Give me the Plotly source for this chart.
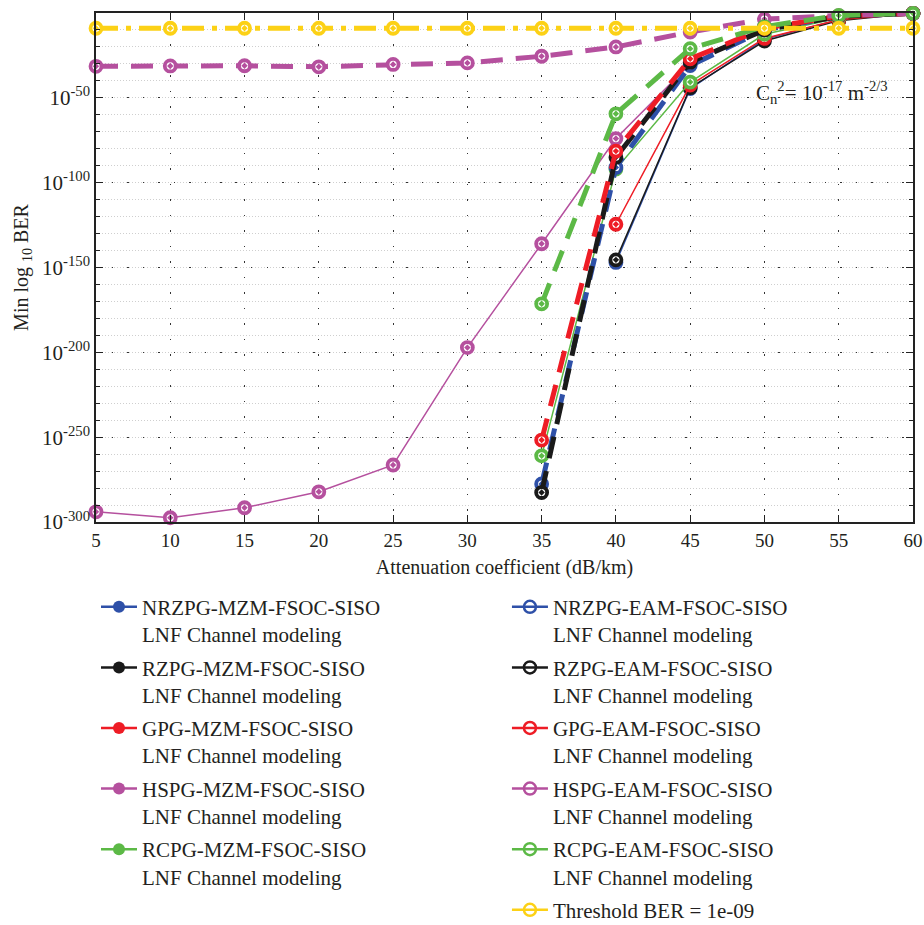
import plotly.graph_objects as go

# ---------------- data (exponents of BER, i.e. log10 BER) ----------------
atten = [5, 10, 15, 20, 25, 30, 35, 40, 45, 50, 55, 60]

nrzpg_mzm = [None, None, None, None, None, None, None, -147.0, -44.5, -15.5, -4.0, -0.2]
rzpg_mzm = [None, None, None, None, None, None, None, -145.5, -44.0, -16.5, -4.5, -0.2]
gpg_mzm = [None, None, None, None, None, None, None, -124.5, -42.5, -15.0, -4.0, -0.2]
hspg_mzm = [-294.0, -297.5, -291.6, -282.2, -266.4, -197.2, -136.0, -74.0, -30.0, -8.0, -2.5, -0.2]
rcpg_mzm = [None, None, None, None, None, None, -261.0, -92.0, -40.7, -12.5, -3.0, -0.2]

nrzpg_eam = [None, None, None, None, None, None, -277.6, -91.0, -31.0, -10.0, -2.0, -0.2]
rzpg_eam = [None, None, None, None, None, None, -282.6, -85.0, -29.0, -10.0, -2.0, -0.2]
gpg_eam = [None, None, None, None, None, None, -251.7, -81.4, -27.0, -9.0, -1.8, -0.2]
hspg_eam = [-31.4, -31.2, -31.1, -31.7, -30.3, -29.4, -25.5, -20.0, -11.2, -3.6, -1.5, -0.2]
rcpg_eam = [None, None, None, None, None, None, -171.4, -59.4, -21.0, -8.0, -1.4, -0.2]

threshold = [-9, -9, -9, -9, -9, -9, -9, -9, -9, -9, -9, -9]

y_ticks = [0, -50, -100, -150, -200, -250, -300]
y_ticktext = ["10<sup>0</sup>", "10<sup>-50</sup>", "10<sup>-100</sup>", "10<sup>-150</sup>",
              "10<sup>-200</sup>", "10<sup>-250</sup>", "10<sup>-300</sup>"]
x_ticks = [5, 10, 15, 20, 25, 30, 35, 40, 45, 50, 55, 60]

mzm_names = ["NRZPG-MZM-FSOC-SISO", "RZPG-MZM-FSOC-SISO", "GPG-MZM-FSOC-SISO",
             "HSPG-MZM-FSOC-SISO", "RCPG-MZM-FSOC-SISO"]
eam_names = ["NRZPG-EAM-FSOC-SISO", "RZPG-EAM-FSOC-SISO", "GPG-EAM-FSOC-SISO",
             "HSPG-EAM-FSOC-SISO", "RCPG-EAM-FSOC-SISO"]
colors = ["#2e50a8", "#1a1a1a", "#ee1c25", "#b5509e", "#5cb946"]
thr_color = "#fcd116"
thr_name = "Threshold BER = 1e-09"
suffix = "<br>LNF Channel modeling"

FONT = "Liberation Serif"
TXT = "#231f20"

fig = go.Figure()

mzm_data = [nrzpg_mzm, rzpg_mzm, gpg_mzm, hspg_mzm, rcpg_mzm]
eam_data = [nrzpg_eam, rzpg_eam, gpg_eam, hspg_eam, rcpg_eam]

marker_plot = lambda c: dict(symbol="circle-dot", size=11, color="white",
                             line=dict(color=c, width=3.8))

# solid MZM curves
for name, ys, c in zip(mzm_names, mzm_data, colors):
    fig.add_trace(go.Scatter(x=atten, y=ys, mode="lines+markers", showlegend=False,
                             line=dict(color=c, width=1.5), marker=marker_plot(c),
                             cliponaxis=False, name=name))
# dashed EAM curves
for name, ys, c in zip(eam_names, eam_data, colors):
    fig.add_trace(go.Scatter(x=atten, y=ys, mode="lines+markers", showlegend=False,
                             line=dict(color=c, width=5, dash="22px,13px"), marker=marker_plot(c),
                             cliponaxis=False, name=name))
# threshold
fig.add_trace(go.Scatter(x=atten, y=threshold, mode="lines+markers", showlegend=False,
                         line=dict(color=thr_color, width=5, dash="22px,8px,5px,8px"),
                         marker=marker_plot(thr_color), cliponaxis=False, name=thr_name))

# legend-only entries
for i, (name, c) in enumerate(zip(mzm_names, colors)):
    fig.add_trace(go.Scatter(x=[None], y=[None], mode="lines+markers", name=name + suffix,
                             line=dict(color=c, width=2.5),
                             marker=dict(symbol="circle", size=12, color=c),
                             legend="legend", legendgroup="m%d" % i))
for i, (name, c) in enumerate(zip(eam_names, colors)):
    fig.add_trace(go.Scatter(x=[None], y=[None], mode="lines+markers", name=name + suffix,
                             line=dict(color=c, width=2.5),
                             marker=dict(symbol="circle-open", size=12, color=c, line=dict(width=2.5)),
                             legend="legend2", legendgroup="e%d" % i))
fig.add_trace(go.Scatter(x=[None], y=[None], mode="lines+markers", name=thr_name,
                         line=dict(color=thr_color, width=2.5),
                         marker=dict(symbol="circle-open", size=12, color=thr_color, line=dict(width=2.5)),
                         legend="legend2", legendgroup="thr"))

fig.add_annotation(x=49.3, y=-47, xref="x", yref="y", xanchor="left", yanchor="middle",
                   text="C<sub>n</sub><sup>2</sup>= 10<sup>-17</sup> m<sup>-2/3</sup>",
                   showarrow=False, font=dict(family=FONT, size=21, color=TXT))

leg_common = dict(font=dict(family=FONT, size=21, color=TXT), bgcolor="rgba(0,0,0,0)",
                  tracegroupgap=3, valign="top", yanchor="top", xanchor="left",
                  itemwidth=36)

fig.update_layout(
    width=924, height=925,
    margin=dict(l=96, r=11, t=13, b=403, autoexpand=False),
    paper_bgcolor="white", plot_bgcolor="white",
    font=dict(family=FONT, color=TXT),
    legend=dict(x=0.0, y=-0.127, **leg_common),
    legend2=dict(x=0.503, y=-0.127, **leg_common),
    xaxis=dict(range=[5, 60], tickvals=x_ticks, ticks="inside", ticklen=7, tickwidth=1,
               tickcolor="#222", showline=True, linecolor="#222", linewidth=1.5, mirror="ticks",
               showgrid=True, gridcolor="#333", gridwidth=1, griddash="1.5px,14px",
               zeroline=False, tickfont=dict(family=FONT, size=19, color=TXT),
               title=dict(text="Attenuation coefficient (dB/km)", standoff=10,
                          font=dict(family=FONT, size=20, color=TXT))),
    yaxis=dict(range=[-300, 0], tickvals=y_ticks, ticktext=y_ticktext, ticks="inside",
               ticklen=7, tickwidth=1, tickcolor="#222", showline=True, linecolor="#222",
               linewidth=1.5, mirror="ticks", showgrid=True, gridcolor="#333", gridwidth=1,
               griddash="1.5px,14px", zeroline=False,
               minor=dict(dtick=10, tick0=0, ticks="inside", ticklen=4, tickcolor="#222",
                          showgrid=True, gridcolor="#cfcfcf", gridwidth=1, griddash="1px,2px"),
               tickfont=dict(family=FONT, size=21, color=TXT),
               title=dict(text="Min log <sub>10</sub> BER", standoff=8,
                          font=dict(family=FONT, size=20, color=TXT))),
)

fig.write_html("out.html")
